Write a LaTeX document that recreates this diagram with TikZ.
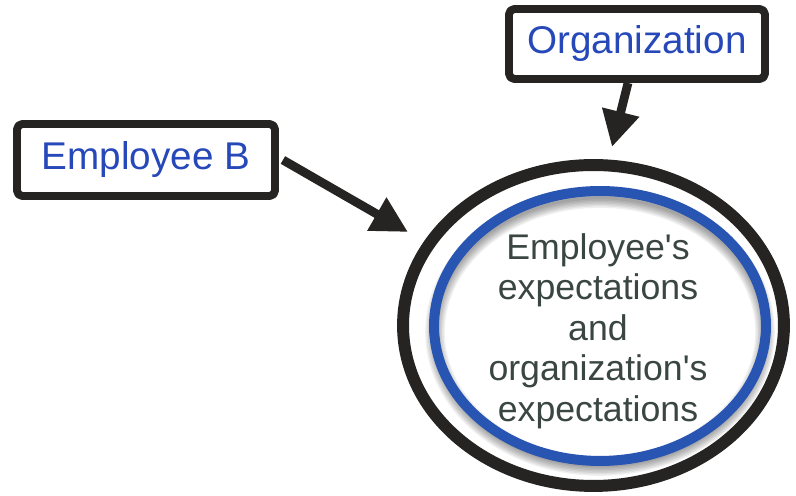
\documentclass[tikz,border=0pt]{standalone}
\usepackage{fontspec}
\setmainfont{Liberation Sans}
\usetikzlibrary{arrows.meta,shapes.geometric}

\definecolor{labelblue}{RGB}{38,72,185}
\definecolor{ringblue}{RGB}{40,84,178}
\definecolor{inktext}{RGB}{58,70,66}
\definecolor{darkline}{RGB}{38,36,34}

\begin{document}
\begin{tikzpicture}[x=0.02cm,y=-0.02cm,line join=round]
\tikzset{
namebox/.style={draw=darkline, line width=4.5pt, rounded corners=3pt, fill=white, text=labelblue, font=\fontsize{22}{26}\selectfont, inner sep=0pt},
outerring/.style={ellipse, draw=darkline, line width=6.8pt, inner sep=0pt},
innerring/.style={ellipse, draw=ringblue, line width=5.7pt, inner sep=0pt},
pointer/.style={draw=darkline, line width=5pt, -{Triangle[length=0.72cm,width=0.72cm]}}
}
\useasboundingbox[fill=white] (0,0) rectangle (796,496);

% soft shadow under the blue ring
\foreach \k in {1,...,7}
  \draw[black, opacity=0.06, line width=\k*1.6pt] (600,332) ellipse (165 and 134);

\node[outerring, minimum width=7.62cm, minimum height=6.42cm] (outer) at (593.5,325.5) {};
\node[innerring, minimum width=6.64cm, minimum height=5.40cm] (inner) at (600,326) {};
\node[text=inktext, align=center, font=\fontsize{20.3}{23}\selectfont] (expect) at (598,331)
  {Employee\textquotesingle s\\expectations\\and\\organization\textquotesingle s\\expectations};

\node[namebox, minimum width=5.12cm, minimum height=1.40cm] (org) at (637,44) {Organization};
\node[namebox, minimum width=5.16cm, minimum height=1.44cm] (empb) at (146,160) {Employee B};

\coordinate (tipB) at (408,232);
\coordinate (tipO) at (612,147);
\draw[pointer] ([xshift=0.08cm]empb.east) -- (tipB);
\draw[pointer] ([xshift=-0.18cm]org.south) -- (tipO);
\end{tikzpicture}
\end{document}
